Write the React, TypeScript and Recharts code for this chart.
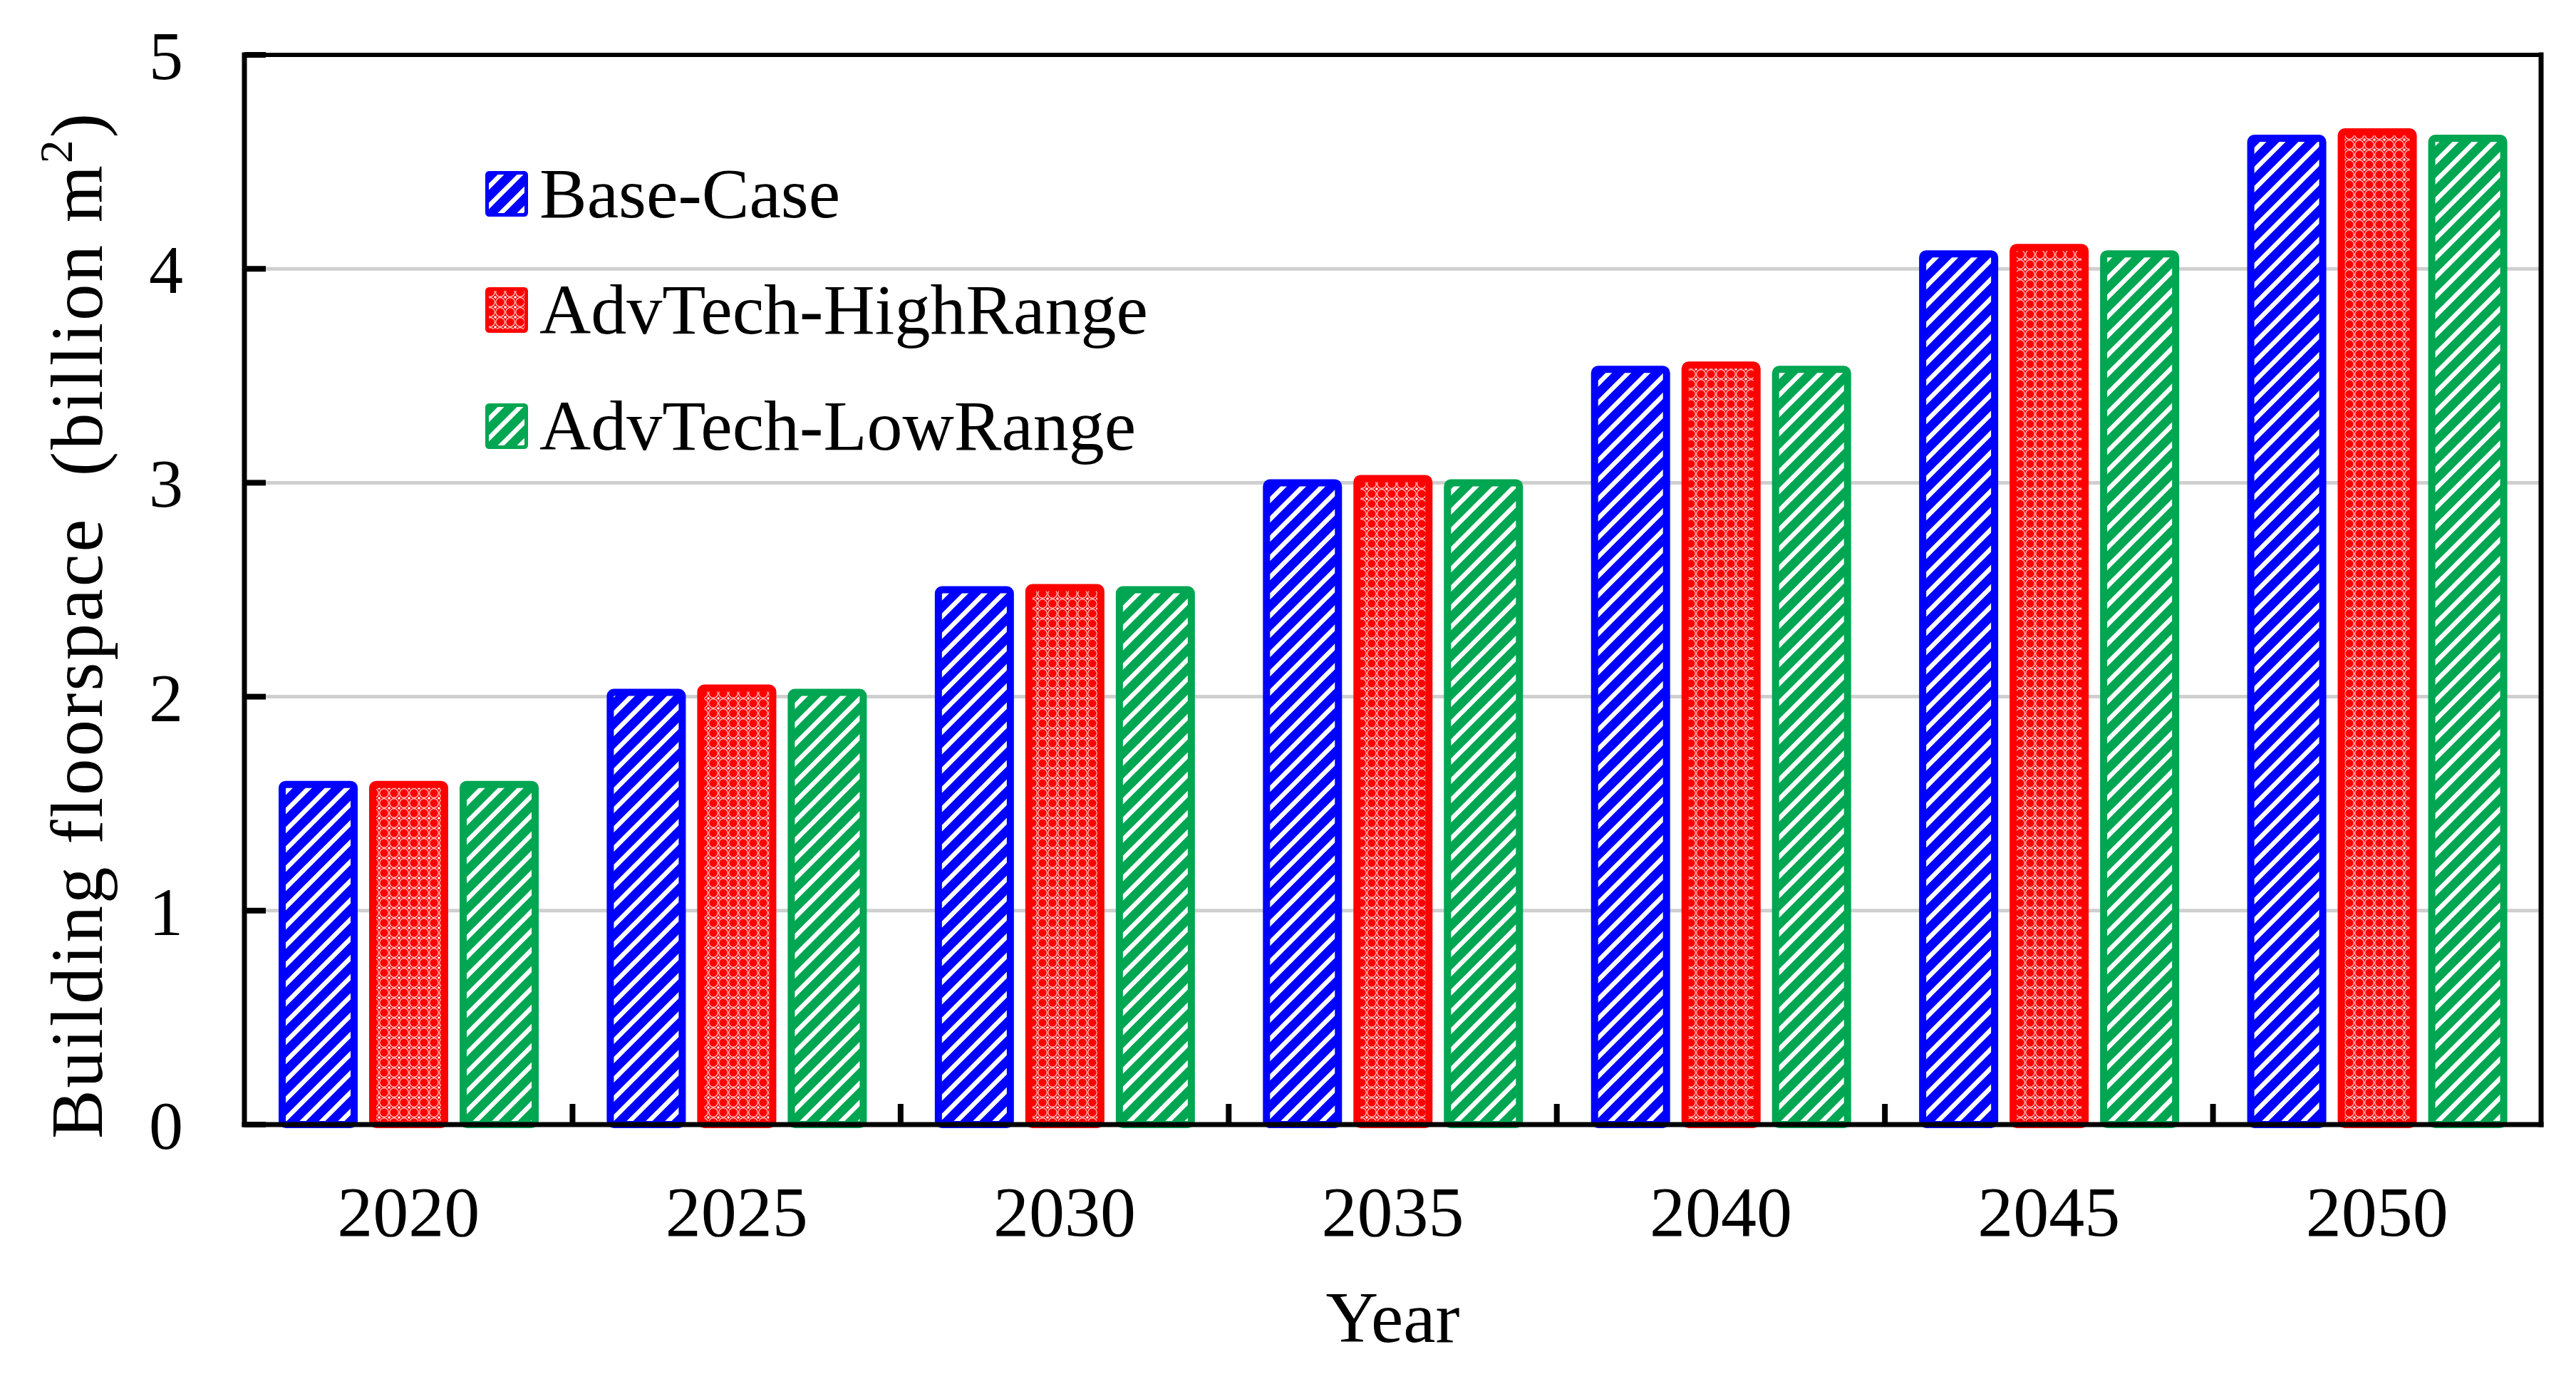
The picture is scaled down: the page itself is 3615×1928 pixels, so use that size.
import { BarChart, Bar, XAxis, YAxis, CartesianGrid, Legend } from 'recharts';

const years = ['2020', '2025', '2030', '2035', '2040', '2045', '2050'];
const baseCase = [1.59, 2.02, 2.5, 3.0, 3.53, 4.07, 4.61];
const highRange = [1.59, 2.04, 2.51, 3.02, 3.55, 4.1, 4.64];
const lowRange = [1.59, 2.02, 2.5, 3.0, 3.53, 4.07, 4.61];
const yTicks = [0, 1, 2, 3, 4, 5];

const SERIF = '"Liberation Serif", "Times New Roman", Times, serif';

const series = [
    { key: 'base', name: 'Base-Case', color: '#0000FF', pattern: 'pat-blue' },
    { key: 'high', name: 'AdvTech-HighRange', color: '#FF0000', pattern: 'pat-red' },
    { key: 'low', name: 'AdvTech-LowRange', color: '#00A651', pattern: 'pat-green' },
];

const data = years.map((year, i) => ({
    year,
    base: baseCase[i],
    high: highRange[i],
    low: lowRange[i],
}));

// SVG hatch patterns, referenced by url(#id) from the bars and the legend swatches
const PatternDefs = () => (
    <svg width={0} height={0} style={{ position: 'absolute' }}>
        <defs>
            <pattern id="pat-blue" patternUnits="userSpaceOnUse" width={27} height={27}>
                <rect width={27} height={27} fill="#0000FF" />
                <path d="M-7,7 L7,-7 M0,27 L27,0 M20,34 L34,20" stroke="#fff" strokeWidth={6.5} />
            </pattern>
            <pattern id="pat-green" patternUnits="userSpaceOnUse" width={27} height={27}>
                <rect width={27} height={27} fill="#00A651" />
                <path d="M-7,7 L7,-7 M0,27 L27,0 M20,34 L34,20" stroke="#fff" strokeWidth={6.5} />
            </pattern>
            <pattern id="pat-red" patternUnits="userSpaceOnUse" width={14} height={14}>
                <rect width={14} height={14} fill="#FF0000" />
                <circle cx={7} cy={7} r={6.3} fill="none" stroke="#fff" strokeWidth={1.2} opacity={0.8} />
                <circle cx={0} cy={0} r={1.8} fill="#fff" />
                <circle cx={14} cy={0} r={1.8} fill="#fff" />
                <circle cx={0} cy={14} r={1.8} fill="#fff" />
                <circle cx={14} cy={14} r={1.8} fill="#fff" />
            </pattern>
        </defs>
    </svg>
);

// year label under each group, plus the short inward tick on the group boundary to its right
const YearTick = (props: any) => {
    const { x, y, payload, index } = props;
    const half = payload && payload.offset ? payload.offset : 230;
    const edge = x + half;
    return (
        <g>
            <text x={x} y={y + 85} dy="0.71em" textAnchor="middle" fontFamily={SERIF} fontSize={100} fill="#000">
                {payload.value}
            </text>
            {index < years.length - 1 && (
                <line x1={edge} x2={edge} y1={y} y2={y - 29} stroke="#000" strokeWidth={8} />
            )}
        </g>
    );
};

// value label plus inward tick mark on the left axis
const ValueTick = (props: any) => {
    const { x, y, payload } = props;
    return (
        <g>
            <line x1={x} x2={x + 30} y1={y} y2={y} stroke="#000" strokeWidth={8} />
            <text x={x - 86} y={y} dy="0.355em" textAnchor="end" fontFamily={SERIF} fontSize={96} fill="#000">
                {payload.value}
            </text>
        </g>
    );
};

const LegendBox = () => (
    <div style={{ fontFamily: SERIF, fontSize: 100, color: '#000' }}>
        {series.map((s, i) => (
            <div
                key={s.key}
                style={{ display: 'flex', alignItems: 'center', height: 100, lineHeight: '100px', marginTop: i === 0 ? 0 : 63 }}
            >
                <svg width={60} height={64} style={{ marginRight: 16 }}>
                    <rect x={2.5} y={2.5} width={55} height={59} rx={3} fill={`url(#${s.pattern})`} stroke={s.color} strokeWidth={5} />
                </svg>
                <span style={{ whiteSpace: 'nowrap' }}>{s.name}</span>
            </div>
        ))}
    </div>
);

const YTitle = (props: any) => {
    const vb = props.viewBox || { x: 0, y: 77 };
    const cx = vb.x + 143;
    const cy = vb.y + 800;
    return (
        <text
            x={cx}
            y={cy}
            transform={`rotate(-90, ${cx}, ${cy})`}
            textAnchor="middle"
            fontFamily={SERIF}
            fontSize={103}
            letterSpacing={3}
            fill="#000"
            style={{ whiteSpace: 'pre' }}
        >
            {'Building floorspace  (billion m'}
            <tspan dy={-42} fontSize={66}>2</tspan>
            <tspan dy={42}>)</tspan>
        </text>
    );
};

const XTitle = (props: any) => {
    const vb = props.viewBox || { x: 343, y: 1578, width: 3223 };
    return (
        <text
            x={vb.x + vb.width / 2}
            y={vb.y + 305}
            textAnchor="middle"
            fontFamily={SERIF}
            fontSize={102}
            fill="#000"
        >
            Year
        </text>
    );
};

export default function App() {
    return (
        <div style={{ position: 'absolute', left: 0, top: 0, width: 3615, height: 1928, background: '#fff' }}>
            <PatternDefs />
            <BarChart
                width={3615}
                height={1928}
                data={data}
                margin={{ top: 76, right: 48, bottom: 0, left: 0 }}
                barCategoryGap={53}
                barGap={26}
            >
                <CartesianGrid vertical={false} stroke="#cfcfcf" strokeWidth={5} />
                <XAxis
                    dataKey="year"
                    height={350}
                    axisLine={{ stroke: '#000', strokeWidth: 7, strokeLinecap: 'square' }}
                    tickLine={false}
                    tickSize={0}
                    tickMargin={0}
                    interval={0}
                    tick={YearTick}
                    label={(p: any) => <XTitle viewBox={p.viewBox} />}
                />
                {/* top frame line */}
                <XAxis
                    xAxisId={2}
                    orientation="top"
                    type="number"
                    domain={[0, 7]}
                    allowDataOverflow
                    height={1}
                    tick={false}
                    tickLine={false}
                    axisLine={{ stroke: '#000', strokeWidth: 6, strokeLinecap: 'square' }}
                />
                <YAxis
                    yAxisId={0}
                    width={343}
                    domain={[0, 5]}
                    ticks={yTicks}
                    interval={0}
                    tickSize={0}
                    tickMargin={0}
                    tickLine={false}
                    axisLine={{ stroke: '#000', strokeWidth: 7, strokeLinecap: 'square' }}
                    tick={ValueTick}
                    label={(p: any) => <YTitle viewBox={p.viewBox} />}
                />
                {/* right frame line */}
                <YAxis
                    yAxisId={1}
                    orientation="right"
                    width={1}
                    domain={[0, 5]}
                    tick={false}
                    tickLine={false}
                    axisLine={{ stroke: '#000', strokeWidth: 7, strokeLinecap: 'square' }}
                />
                <Legend
                    layout="vertical"
                    align="center"
                    verticalAlign="middle"
                    content={() => <LegendBox />}
                    wrapperStyle={{ left: 681, top: 222, width: 1100, height: 'auto' }}
                />
                {series.map((s) => (
                    <Bar
                        key={s.key}
                        yAxisId={0}
                        dataKey={s.key}
                        name={s.name}
                        fill={`url(#${s.pattern})`}
                        stroke={s.color}
                        strokeWidth={10}
                        radius={5}
                        isAnimationActive={false}
                    />
                ))}
            </BarChart>
        </div>
    );
}
